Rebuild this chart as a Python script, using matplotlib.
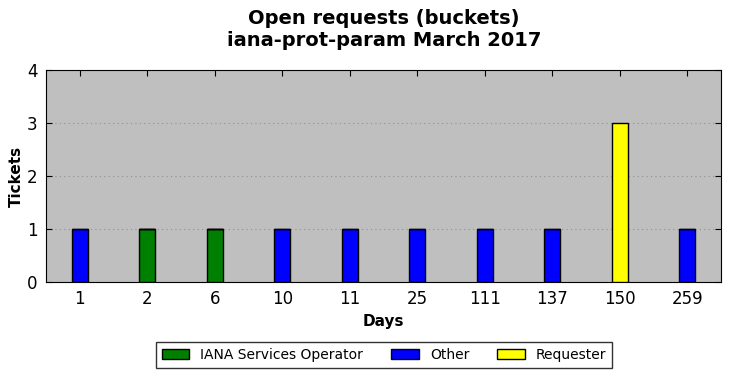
import numpy as np
import matplotlib.pyplot as plt

days = ['1', '2', '6', '10', '11', '25', '111', '137', '150', '259']
iana = [0, 1, 1, 0, 0, 0, 0, 0, 0, 0]
other = [1, 0, 0, 1, 1, 1, 1, 1, 0, 1]
requester = [0, 0, 0, 0, 0, 0, 0, 0, 3, 0]

series = [('IANA Services Operator', iana, '#008000'),
          ('Other', other, '#0000ff'),
          ('Requester', requester, '#ffff00')]

fig = plt.figure(figsize=(7.31, 3.78), dpi=100)
ax = fig.add_axes([46/731, 1 - 282/378, 675/731, 212/378])
ax.set_facecolor('#bfbfbf')

x = np.arange(len(days))
bottom = np.zeros(len(days))
for name, vals, color in series:
    vals = np.array(vals, dtype=float)
    ax.bar(x, vals, 0.24, bottom=bottom, color=color, edgecolor='black',
           linewidth=1, label=name, zorder=3)
    bottom += vals

ax.set_xlim(-0.5, len(days) - 0.5)
ax.set_ylim(0, 4)
ax.set_xticks(x)
ax.set_xticklabels(days)
ax.set_yticks(range(5))
ax.yaxis.grid(True, linestyle=(0, (1, 3)), color='#909090', linewidth=0.8,
              zorder=1)
ax.set_axisbelow(True)
ax.tick_params(direction='in', top=True, right=True, labelsize=12, length=4,
               pad=6)
ax.set_xlabel('Days', fontsize=11, fontweight='bold')
ax.set_ylabel('Tickets', fontsize=11, fontweight='bold', labelpad=2)
fig.suptitle('Open requests (buckets)\niana-prot-param March 2017',
             fontsize=14, fontweight='bold', x=384/731, y=0.975)

leg = fig.legend(loc='center', bbox_to_anchor=(384/731, 1 - 355/378), ncol=3,
                 fontsize=10, fancybox=False, edgecolor='black',
                 handlelength=2.0, handleheight=0.7, columnspacing=2.0,
                 borderpad=0.4)
leg.get_frame().set_linewidth(1)

fig.savefig('out.png', dpi=100)
